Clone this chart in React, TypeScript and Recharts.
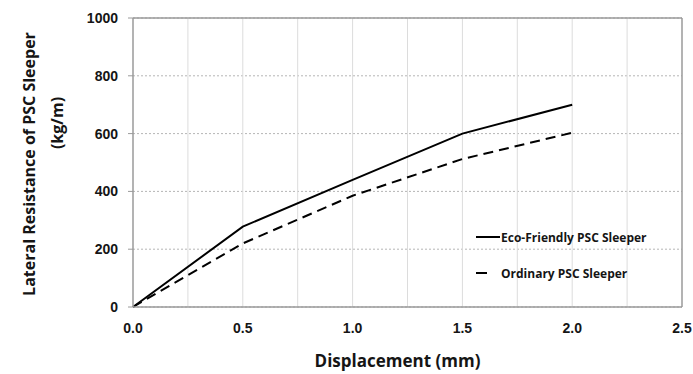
import React from 'react';
import {
  LineChart, Line, XAxis, YAxis, CartesianGrid, ReferenceLine,
} from 'recharts';

// values
const displacement = [0, 0.5, 1.0, 1.5, 2.0];
const ecoFriendly = [0, 278, 440, 600, 700];
const ordinary = [0, 220, 385, 512, 603];
const seriesNames = ['Eco-Friendly PSC Sleeper', 'Ordinary PSC Sleeper'];

const xTicks = [0, 0.5, 1.0, 1.5, 2.0, 2.5];
const xMinorGrid = [0.25, 0.5, 0.75, 1.0, 1.25, 1.5, 1.75, 2.0, 2.25];
const yTicks = [0, 200, 400, 600, 800, 1000];

const data = displacement.map((d, i) => ({
  x: d,
  eco: ecoFriendly[i],
  ord: ordinary[i],
}));

const tickFont = { fill: '#151515', fontSize: 14, fontWeight: 700, fontFamily: 'Liberation Sans, Arial, sans-serif' };
const titleFont = 'Open Sans, sans-serif';

export default function App() {
  return (
    <div style={{ position: 'absolute', left: 0, top: 0, width: 693, height: 374, background: '#fff' }}>
      <LineChart width={693} height={374} data={data} margin={{ top: 18, right: 11, left: 0, bottom: 0 }}>
        <CartesianGrid vertical={false} stroke="#b5b5b5" strokeDasharray="2 2" />
        {/* lighter vertical grid every 0.25 */}
        {xMinorGrid.map(v => (
          <ReferenceLine key={`vg-${v}`} x={v} stroke="#dcdcdc" strokeWidth={1} />
        ))}
        <ReferenceLine y={1000} stroke="#9a9a9a" strokeWidth={1.5} />
        <ReferenceLine x={2.5} stroke="#9a9a9a" strokeWidth={1.5} />
        <XAxis
          dataKey="x"
          type="number"
          domain={[0, 2.5]}
          ticks={xTicks}
          tickFormatter={(v: number) => v.toFixed(1)}
          tick={tickFont}
          tickLine={false}
          tickSize={0}
          tickMargin={16}
          height={67}
          axisLine={{ stroke: '#9a9a9a', strokeWidth: 1.5 }}
          label={{
            content: (props: any) => {
              const vb = props.viewBox;
              return (
                <text x={vb.x + vb.width / 2 - 10} y={367} textAnchor="middle"
                  style={{ fontFamily: titleFont, fontWeight: 700, fontSize: 17, fill: '#151515' }}>
                  Displacement (mm)
                </text>
              );
            },
          }}
        />
        <YAxis
          type="number"
          domain={[0, 1000]}
          ticks={yTicks}
          tick={tickFont}
          tickSize={5}
          tickMargin={10}
          tickLine={{ stroke: '#9a9a9a' }}
          width={133}
          axisLine={{ stroke: '#9a9a9a', strokeWidth: 1.5 }}
          label={{
            content: () => (
              <g style={{ fontFamily: titleFont, fontWeight: 700, fontSize: 16, fill: '#151515' }}>
                <text x={0} y={0} textAnchor="middle" transform="translate(35,164) rotate(-90)">
                  Lateral Resistance of PSC Sleeper
                </text>
                <text x={0} y={0} textAnchor="middle" transform="translate(63,123) rotate(-90)">
                  (kg/m)
                </text>
              </g>
            ),
          }}
        />
        <Line dataKey="eco" name={seriesNames[0]} type="linear" stroke="#000" strokeWidth={2}
          dot={false} isAnimationActive={false} />
        <Line dataKey="ord" name={seriesNames[1]} type="linear" stroke="#000" strokeWidth={2}
          strokeDasharray="10 6" dot={false} isAnimationActive={false} />
      </LineChart>

      {/* legend inside the plot area */}
      <div style={{ position: 'absolute', left: 476, top: 228, fontFamily: titleFont, fontWeight: 700, fontSize: 12, color: '#151515' }}>
        {seriesNames.map((name, i) => (
          <div key={name} style={{ display: 'flex', alignItems: 'center', height: 18, marginBottom: i === 0 ? 18 : 0 }}>
            <svg width={25} height={4}>
              <line x1={0} y1={2} x2={i === 0 ? 24 : 11} y2={2} stroke="#000" strokeWidth={2} />
            </svg>
            <span>{name}</span>
          </div>
        ))}
      </div>
    </div>
  );
}
